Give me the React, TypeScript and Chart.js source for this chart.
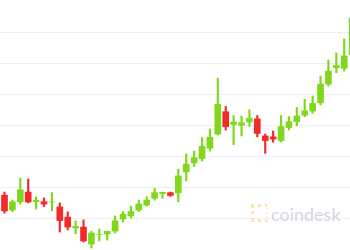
import React, { useEffect, useRef } from "react";
import { Chart, registerables } from "chart.js";

Chart.register(...registerables);

// Candle OHLC values (price units)
const opens = [
  9477, 9429, 9455, 9487, 9456, 9456, 9455, 9439, 9406, 9371,
  9374, 9319, 9350, 9352, 9361, 9400, 9410, 9429, 9445, 9467,
  9482, 9485, 9484, 9552, 9581, 9595, 9628, 9674, 9746, 9705,
  9702, 9713, 9723, 9668, 9665, 9653, 9695, 9714, 9735, 9748,
  9775, 9835, 9888, 9886, 9929,
];
const closes = [
  9426, 9455, 9494, 9455, 9460, 9448, 9455, 9395, 9374, 9376,
  9329, 9355, 9350, 9360, 9394, 9415, 9424, 9448, 9461, 9485,
  9486, 9476, 9539, 9577, 9598, 9634, 9664, 9770, 9698, 9713,
  9711, 9725, 9676, 9653, 9658, 9698, 9714, 9732, 9749, 9773,
  9835, 9877, 9895, 9926, 10048,
];
const highs = [
  9487, 9461, 9532, 9529, 9471, 9468, 9485, 9452, 9423, 9394,
  9397, 9361, 9368, 9361, 9410, 9424, 9442, 9461, 9472, 9499,
  9487, 9487, 9561, 9610, 9619, 9663, 9690, 9854, 9763, 9734,
  9732, 9752, 9734, 9674, 9684, 9734, 9730, 9760, 9786, 9797,
  9861, 9913, 9936, 9981, 10074,
];
const lows = [
  9419, 9423, 9448, 9452, 9432, 9440, 9427, 9358, 9365, 9352,
  9326, 9306, 9329, 9332, 9355, 9390, 9403, 9424, 9442, 9461,
  9467, 9473, 9455, 9523, 9569, 9587, 9619, 9671, 9687, 9640,
  9668, 9698, 9665, 9612, 9648, 9649, 9687, 9700, 9730, 9741,
  9768, 9829, 9872, 9877, 9919,
];
const gridValues = [9400, 9500, 9600, 9700, 9800, 9900, 10000];

const GREEN = "#7fd81c";
const RED = "#f22a2a";

export default function App() {
  const ref = useRef<HTMLCanvasElement | null>(null);

  useEffect(() => {
    if (!ref.current) return;
    const colorFor = (ctx: any) =>
      closes[ctx.dataIndex] >= opens[ctx.dataIndex] ? GREEN : RED;

    const chart = new Chart(ref.current, {
      type: "bar",
      data: {
        datasets: [
          {
            label: "wick",
            data: highs.map((h, i) => ({ x: i, y: [lows[i], h] })) as any,
            backgroundColor: colorFor as any,
            barThickness: 1.5,
            grouped: false,
            order: 2,
          } as any,
          {
            label: "body",
            data: opens.map((o, i) => ({ x: i, y: [o, closes[i]] })) as any,
            backgroundColor: colorFor as any,
            barThickness: 6,
            grouped: false,
            order: 1,
          } as any,
        ],
      },
      options: {
        responsive: false,
        animation: false,
        layout: { padding: 0 },
        plugins: { legend: { display: false }, tooltip: { enabled: false } },
        scales: {
          x: {
            type: "linear",
            display: false,
            offset: false,
            min: -0.57,
            max: 43.73,
          },
          y: {
            type: "linear",
            min: 9300,
            max: 10106.45,
            border: { display: false },
            ticks: { display: false },
            grid: { color: "#eeeef8", lineWidth: 1, drawTicks: false },
            afterBuildTicks: (scale: any) => {
              scale.ticks = gridValues.map((v) => ({ value: v }));
            },
            afterFit: (scale: any) => {
              scale.width = 0;
            },
          },
        },
      } as any,
    });
    return () => chart.destroy();
  }, []);

  return (
    <div
      style={{
        position: "absolute",
        left: 0,
        top: 0,
        width: 350,
        height: 250,
        overflow: "hidden",
        background: "#ffffff",
      }}
    >
      <canvas ref={ref} width={350} height={250} style={{ display: "block" }} />
      <div
        style={{
          position: "absolute",
          left: 251,
          top: 204,
          width: 12,
          height: 12,
          borderTop: "3px dotted #fbe6a8",
          borderLeft: "3px dotted #fbe6a8",
          borderBottom: "3px dotted #fbe6a8",
          borderRight: "2px dotted #fdf0c8",
        }}
      />
      <div
        style={{
          position: "absolute",
          left: 271,
          top: 205,
          fontFamily: "Lato, 'Liberation Sans', sans-serif",
          fontSize: 18,
          lineHeight: "18px",
          color: "#d4d4dc",
          whiteSpace: "nowrap",
        }}
      >
        coindesk
      </div>
    </div>
  );
}
